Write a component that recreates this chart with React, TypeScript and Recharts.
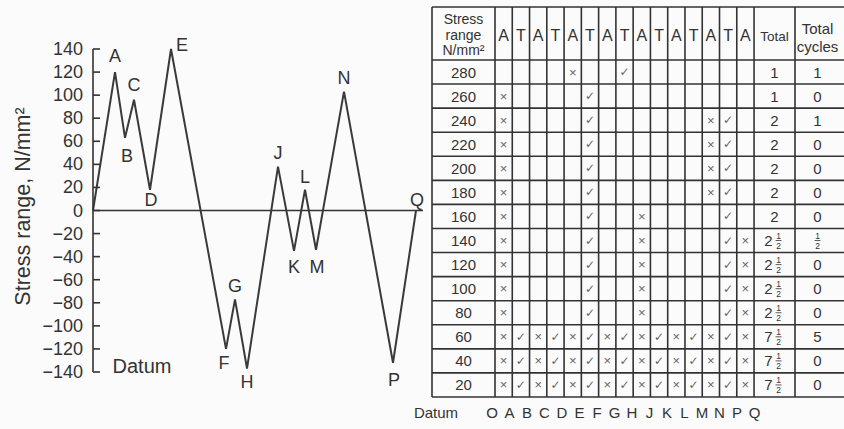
import { LineChart, Line, XAxis, YAxis, ReferenceLine, LabelList } from "recharts";

// turning points of the stress history
const pointNames = ["O", "A", "B", "C", "D", "E", "F", "G", "H", "J", "K", "L", "M", "N", "P", "Q"];
const timeSteps = [0, 22, 32, 41, 57, 78, 133, 142, 154, 185, 201, 212, 223, 251, 300, 323];
const stressValues = [0, 120, 63, 96, 18, 140, -120, -77, -137, 38, -35, 18, -34, 103, -132, 0];
const stressTicks = [140, 120, 100, 80, 60, 40, 20, 0, -20, -40, -60, -80, -100, -120, -140];

// counting table
const columnHeads = ["A", "T", "A", "T", "A", "T", "A", "T", "A", "T", "A", "T", "A", "T", "A"];
const rangeLevels = [280, 260, 240, 220, 200, 180, 160, 140, 120, 100, 80, 60, 40, 20];
// x = crossed on ascent, v = crossed on descent
const rowMarks = [
  "....x..v.......",
  "x....v.........",
  "x....v......xv.",
  "x....v......xv.",
  "x....v......xv.",
  "x....v......xv.",
  "x....v..x....v.",
  "x....v..x....vx",
  "x....v..x....vx",
  "x....v..x....vx",
  "x....v..x....vx",
  "xvxvxvxvxvxvxvx",
  "xvxvxvxvxvxvxvx",
  "xvxvxvxvxvxvxvx",
];
const rowTotals = ["1", "1", "2", "2", "2", "2", "2", "2½", "2½", "2½", "2½", "7½", "7½", "7½"];
const rowCycles = ["1", "0", "1", "0", "0", "0", "0", "½", "0", "0", "0", "5", "0", "0"];

const data = pointNames.map((name, i) => ({ name, t: timeSteps[i], s: stressValues[i] }));

const INK = "#333";
const FONT = "'Liberation Sans', Arial, sans-serif";

// where each turning-point letter sits relative to its vertex
const labelOffset = {
  A: [0, -16], B: [2, 18], C: [0, -15], D: [1, 10], E: [11, -4], F: [-2, 14],
  G: [0, -13], H: [0, 13], J: [0, -14], K: [0, 16], L: [0, -13], M: [1, 17],
  N: [0, -14], P: [1, 17], Q: [1, -11],
};

const minus = (v: number) => String(v).replace("-", "\u2212");

// ticks point inwards, label sits outside
const StressTick = ({ x, y, payload }: any) => (
  <g>
    <path d={`M${x + 10},${y}h7`} stroke={INK} strokeWidth={1.6} fill="none" />
    <text x={x} y={y} textAnchor="end" dominantBaseline="central" fontSize={18} fill={INK} fontFamily={FONT}>
      {minus(payload.value)}
    </text>
  </g>
);

const PointLabel = (props: any) => {
  const { x, y, value } = props;
  const off = labelOffset[value];
  if (!off) return null;
  return (
    <text x={x + off[0]} y={y + off[1]} textAnchor="middle" dominantBaseline="central" fontSize={18} fill={INK} fontFamily={FONT}>
      {value}
    </text>
  );
};

const AxisTitle = ({ viewBox }: any) => {
  const cx = viewBox.x + 23;
  const cy = viewBox.y + viewBox.height / 2 - 4;
  return (
    <text x={cx} y={cy} transform={`rotate(-90, ${cx}, ${cy})`} textAnchor="middle" dominantBaseline="central" fontSize={21.5} fill={INK} fontFamily={FONT}>
      Stress range, N/mm²
    </text>
  );
};

// whole number with a stacked ½
const Mixed = ({ x, y, text }: { x: number; y: number; text: string }) => {
  const half = text.includes("½");
  const whole = text.replace("½", "");
  if (!half) {
    return (
      <text x={x} y={y} textAnchor="middle" dominantBaseline="central" fontSize={15} fill={INK}>{whole}</text>
    );
  }
  const fx = whole ? x + 4 : x;
  return (
    <g fill={INK}>
      {whole && <text x={x - 6} y={y} textAnchor="middle" dominantBaseline="central" fontSize={15}>{whole}</text>}
      <text x={fx} y={y - 5} textAnchor="middle" dominantBaseline="central" fontSize={8.5}>1</text>
      <line x1={fx - 3} x2={fx + 3} y1={y} y2={y} stroke={INK} strokeWidth={0.8} />
      <text x={fx} y={y + 5.5} textAnchor="middle" dominantBaseline="central" fontSize={8.5}>2</text>
    </g>
  );
};

const CycleTable = () => {
  const left = 432;
  const stressRight = 495;
  const colW = 17.27;
  const marksRight = stressRight + colW * columnHeads.length;
  const totalRight = 795;
  const right = 846;
  const top = 7;
  const headBottom = 60;
  const rowH = 24.07;
  const bottom = headBottom + rowH * rangeLevels.length;
  const totalX = (marksRight + totalRight) / 2;
  const cyclesX = (totalRight + right) / 2 - 3;
  const stressX = (left + stressRight) / 2;

  return (
    <svg width={844} height={429} style={{ position: "absolute", left: 0, top: 0 }} fontFamily={FONT}>
      {/* grid */}
      {[top, headBottom, ...rangeLevels.map((_, i) => headBottom + rowH * (i + 1))].map((y, i) => (
        <line key={`h${i}`} x1={left} x2={right} y1={y} y2={y} stroke={INK} strokeWidth={1.6} />
      ))}
      {[left, stressRight, ...columnHeads.map((_, i) => stressRight + colW * (i + 1)), totalRight].map((x, i) => (
        <line key={`v${i}`} x1={x} x2={x} y1={top} y2={bottom} stroke={INK} strokeWidth={1.6} />
      ))}

      {/* header */}
      {["Stress", "range", "N/mm²"].map((s, i) => (
        <text key={s} x={stressX} y={19 + i * 15.5} textAnchor="middle" dominantBaseline="central" fontSize={14} fill={INK}>{s}</text>
      ))}
      {columnHeads.map((h, i) => (
        <text key={`c${i}`} x={stressRight + colW * (i + 0.5)} y={35} textAnchor="middle" dominantBaseline="central" fontSize={16} fill={INK}>{h}</text>
      ))}
      <text x={totalX} y={36} textAnchor="middle" dominantBaseline="central" fontSize={13.5} fill={INK}>Total</text>
      <text x={cyclesX} y={28} textAnchor="middle" dominantBaseline="central" fontSize={15} fill={INK}>Total</text>
      <text x={cyclesX} y={46} textAnchor="middle" dominantBaseline="central" fontSize={15} fill={INK}>cycles</text>

      {/* rows */}
      {rangeLevels.map((lvl, r) => {
        const cy = headBottom + rowH * (r + 0.5);
        return (
          <g key={lvl}>
            <text x={stressX} y={cy} textAnchor="middle" dominantBaseline="central" fontSize={15} fill={INK}>{lvl}</text>
            {rowMarks[r].split("").map((m, c) =>
              m === "." ? null : (
                <text
                  key={c}
                  x={stressRight + colW * (c + 0.5)}
                  y={cy}
                  textAnchor="middle"
                  dominantBaseline="central"
                  fontSize={m === "x" ? 13 : 12}
                  fontFamily={m === "x" ? FONT : "'DejaVu Sans', sans-serif"}
                  fill="#666"
                >
                  {m === "x" ? "×" : "✓"}
                </text>
              )
            )}
            <Mixed x={totalX} y={cy} text={rowTotals[r]} />
            <Mixed x={cyclesX} y={cy} text={rowCycles[r]} />
          </g>
        );
      })}

      {/* datum row */}
      <text x={436} y={412} textAnchor="middle" dominantBaseline="central" fontSize={15} fill={INK}>Datum</text>
      {pointNames.map((n, i) => (
        <text key={n} x={492 + i * 17.5} y={412} textAnchor="middle" dominantBaseline="central" fontSize={15} fill={INK}>{n}</text>
      ))}

      {/* datum note on the history plot */}
      <text x={142} y={366} textAnchor="middle" dominantBaseline="central" fontSize={20} fill={INK}>Datum</text>
    </svg>
  );
};

export default function App() {
  return (
    <div style={{ position: "absolute", left: 0, top: 0, width: 844, height: 429, background: "#fbfbfb", overflow: "hidden", fontFamily: FONT }}>
      <div style={{ position: "absolute", left: 0, top: 0 }}>
        <LineChart width={440} height={429} data={data} margin={{ top: 49, right: 17, bottom: 57, left: 0 }}>
          <XAxis type="number" dataKey="t" domain={[0, 330]} hide />
          <YAxis
            type="number"
            domain={[-140, 140]}
            ticks={stressTicks}
            interval={0}
            width={93}
            tickSize={0}
            tickMargin={10}
            tickLine={false}
            axisLine={{ stroke: INK, strokeWidth: 1.6 }}
            tick={<StressTick />}
            label={{ content: <AxisTitle /> }}
          />
          <ReferenceLine y={0} stroke={INK} strokeWidth={1.5} />
          <Line type="linear" dataKey="s" stroke="#3a3a3a" strokeWidth={2} dot={false} isAnimationActive={false}>
            <LabelList dataKey="name" content={<PointLabel />} />
          </Line>
        </LineChart>
      </div>
      <CycleTable />
    </div>
  );
}
